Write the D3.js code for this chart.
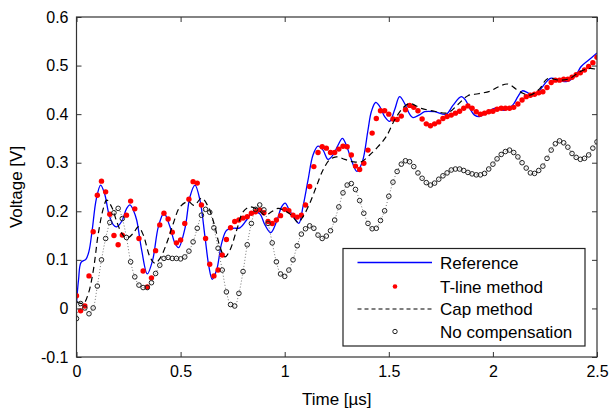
<!DOCTYPE html>
<html>
<head>
<meta charset="utf-8">
<script src="https://cdn.jsdelivr.net/npm/d3@7"></script>
<style>
  html, body { margin: 0; padding: 0; background: #fff; }
  svg { display: block; font-family: "Liberation Sans", Arial, sans-serif; }
</style>
</head>
<body>
<svg id="chart" width="610" height="411"></svg>
<script>
// Axis ticks
const xTicks = [0, 0.5, 1, 1.5, 2, 2.5];
const xTickLabels = ["0", "0.5", "1", "1.5", "2", "2.5"];
const yTicks = [-0.1, 0, 0.1, 0.2, 0.3, 0.4, 0.5, 0.6];
const yTickLabels = ["-0.1", "0", "0.1", "0.2", "0.3", "0.4", "0.5", "0.6"];

// Reference waveform (µs, V)
const refTime = [0, 0.010, 0.022, 0.045, 0.060, 0.075, 0.095, 0.116, 0.135, 0.157, 0.177, 0.193, 0.218, 0.240, 0.257, 0.275, 0.289, 0.313, 0.340, 0.366, 0.393, 0.420, 0.449, 0.473, 0.490, 0.521, 0.545, 0.569, 0.593, 0.617, 0.636, 0.652, 0.673, 0.697, 0.721, 0.752, 0.785, 0.817, 0.848, 0.880, 0.905, 0.933, 0.961, 0.985, 1.002, 1.024, 1.048, 1.068, 1.088, 1.112, 1.136, 1.160, 1.184, 1.208, 1.232, 1.256, 1.277, 1.296, 1.320, 1.347, 1.373, 1.400, 1.416, 1.437, 1.456, 1.480, 1.504, 1.528, 1.552, 1.576, 1.600, 1.616, 1.645, 1.672, 1.720, 1.776, 1.808, 1.848, 1.870, 1.888, 1.912, 1.936, 1.976, 2.016, 2.056, 2.096, 2.120, 2.141, 2.168, 2.200, 2.232, 2.264, 2.280, 2.320, 2.352, 2.392, 2.424, 2.456, 2.500];
const refVolt = [0.010, 0.060, 0.095, 0.101, 0.118, 0.160, 0.225, 0.254, 0.236, 0.192, 0.172, 0.168, 0.180, 0.205, 0.213, 0.200, 0.182, 0.120, 0.071, 0.100, 0.168, 0.196, 0.168, 0.134, 0.125, 0.165, 0.230, 0.254, 0.223, 0.148, 0.086, 0.060, 0.079, 0.134, 0.161, 0.165, 0.166, 0.182, 0.199, 0.195, 0.172, 0.156, 0.179, 0.209, 0.217, 0.201, 0.186, 0.175, 0.210, 0.264, 0.316, 0.334, 0.326, 0.307, 0.316, 0.336, 0.350, 0.336, 0.306, 0.282, 0.302, 0.367, 0.405, 0.424, 0.416, 0.395, 0.385, 0.409, 0.436, 0.422, 0.400, 0.393, 0.398, 0.405, 0.405, 0.400, 0.418, 0.436, 0.428, 0.413, 0.398, 0.395, 0.405, 0.413, 0.408, 0.419, 0.436, 0.448, 0.444, 0.439, 0.453, 0.470, 0.474, 0.470, 0.467, 0.477, 0.498, 0.510, 0.526];

// Cap method waveform (µs, V)
const capTime = [0, 0.033, 0.057, 0.081, 0.105, 0.129, 0.145, 0.169, 0.193, 0.217, 0.241, 0.273, 0.297, 0.321, 0.353, 0.377, 0.401, 0.433, 0.465, 0.497, 0.537, 0.565, 0.601, 0.633, 0.665, 0.689, 0.713, 0.737, 0.769, 0.800, 0.833, 0.872, 0.905, 0.937, 0.968, 1.009, 1.033, 1.064, 1.088, 1.120, 1.152, 1.184, 1.216, 1.248, 1.288, 1.328, 1.368, 1.408, 1.448, 1.488, 1.528, 1.568, 1.600, 1.656, 1.720, 1.784, 1.832, 1.880, 1.930, 1.984, 2.030, 2.072, 2.110, 2.144, 2.176, 2.224, 2.262, 2.320, 2.368, 2.416, 2.464, 2.500];
const capVolt = [0.014, 0.010, 0.031, 0.079, 0.155, 0.206, 0.223, 0.209, 0.179, 0.155, 0.144, 0.155, 0.168, 0.151, 0.106, 0.093, 0.103, 0.134, 0.175, 0.209, 0.220, 0.212, 0.227, 0.209, 0.168, 0.127, 0.106, 0.120, 0.161, 0.199, 0.209, 0.203, 0.192, 0.199, 0.206, 0.199, 0.192, 0.177, 0.189, 0.216, 0.251, 0.285, 0.306, 0.312, 0.307, 0.302, 0.302, 0.316, 0.333, 0.354, 0.388, 0.413, 0.422, 0.412, 0.406, 0.403, 0.420, 0.438, 0.442, 0.447, 0.457, 0.462, 0.452, 0.443, 0.439, 0.452, 0.473, 0.470, 0.473, 0.487, 0.494, 0.492];

// Sampled methods: one sample every 0.02 µs from 0 to 2.5 µs
const sampleStep = 0.02;
const tlineVolt = [0.026, -0.005, 0.005, 0.067, 0.158, 0.233, 0.262, 0.240, 0.194, 0.150, 0.131, 0.151, 0.192, 0.221, 0.205, 0.144, 0.077, 0.044, 0.063, 0.119, 0.172, 0.196, 0.184, 0.157, 0.135, 0.141, 0.175, 0.225, 0.261, 0.258, 0.213, 0.144, 0.091, 0.067, 0.079, 0.110, 0.142, 0.166, 0.179, 0.182, 0.186, 0.189, 0.196, 0.199, 0.203, 0.197, 0.179, 0.175, 0.182, 0.191, 0.204, 0.201, 0.192, 0.188, 0.192, 0.213, 0.251, 0.292, 0.321, 0.333, 0.330, 0.321, 0.321, 0.328, 0.334, 0.333, 0.316, 0.293, 0.286, 0.299, 0.326, 0.361, 0.391, 0.407, 0.407, 0.400, 0.390, 0.389, 0.396, 0.409, 0.418, 0.414, 0.407, 0.390, 0.380, 0.376, 0.380, 0.384, 0.391, 0.395, 0.398, 0.402, 0.406, 0.412, 0.417, 0.412, 0.405, 0.400, 0.402, 0.405, 0.406, 0.410, 0.412, 0.412, 0.412, 0.414, 0.421, 0.429, 0.436, 0.439, 0.441, 0.444, 0.446, 0.455, 0.465, 0.470, 0.470, 0.472, 0.472, 0.476, 0.481, 0.485, 0.491, 0.498, 0.506, 0.517];
const noCompVolt = [-0.021, 0.010, 0.001, -0.011, 0.001, 0.046, 0.100, 0.144, 0.177, 0.197, 0.206, 0.185, 0.146, 0.096, 0.065, 0.048, 0.043, 0.043, 0.053, 0.072, 0.089, 0.103, 0.105, 0.103, 0.103, 0.102, 0.106, 0.118, 0.137, 0.165, 0.192, 0.204, 0.198, 0.166, 0.124, 0.079, 0.034, 0.008, 0.005, 0.031, 0.076, 0.131, 0.175, 0.204, 0.213, 0.203, 0.175, 0.135, 0.096, 0.071, 0.066, 0.079, 0.100, 0.129, 0.153, 0.164, 0.170, 0.165, 0.151, 0.144, 0.149, 0.160, 0.182, 0.209, 0.238, 0.254, 0.257, 0.245, 0.222, 0.196, 0.175, 0.164, 0.165, 0.181, 0.201, 0.231, 0.260, 0.282, 0.297, 0.304, 0.302, 0.292, 0.279, 0.268, 0.259, 0.254, 0.258, 0.266, 0.273, 0.279, 0.285, 0.287, 0.287, 0.284, 0.280, 0.277, 0.275, 0.275, 0.278, 0.287, 0.297, 0.308, 0.317, 0.323, 0.326, 0.321, 0.312, 0.300, 0.289, 0.279, 0.278, 0.284, 0.293, 0.309, 0.326, 0.339, 0.345, 0.341, 0.332, 0.319, 0.311, 0.307, 0.309, 0.316, 0.330, 0.343];

const legendNames = ["Reference", "T-line method", "Cap method", "No compensation"];

const svg = d3.select("#chart");
const plotLeft = 76.5, plotRight = 597, plotTop = 17, plotBottom = 357;

const x = d3.scaleLinear().domain([0, 2.5]).range([plotLeft, plotRight]);
const y = d3.scaleLinear().domain([-0.1, 0.6]).range([plotBottom, plotTop]);

const refData = refTime.map((t, i) => [t, refVolt[i]]);
const capData = capTime.map((t, i) => [t, capVolt[i]]);
const tlineData = tlineVolt.map((v, i) => [i * sampleStep, v]);
const noCompData = noCompVolt.map((v, i) => [i * sampleStep, v]);

const smooth = d3.line().x(d => x(d[0])).y(d => y(d[1])).curve(d3.curveCatmullRom.alpha(0.5));

svg.append("defs").append("clipPath").attr("id", "plotClip")
  .append("rect").attr("x", plotLeft).attr("y", plotTop)
  .attr("width", plotRight - plotLeft).attr("height", plotBottom - plotTop);

const plot = svg.append("g").attr("clip-path", "url(#plotClip)");

// Reference
plot.append("path").datum(refData).attr("d", smooth)
  .attr("fill", "none").attr("stroke", "#0000ff").attr("stroke-width", 1.3);

// No compensation: dotted connector
plot.append("path").datum(noCompData).attr("d", smooth)
  .attr("fill", "none").attr("stroke", "#777").attr("stroke-width", 1)
  .attr("stroke-dasharray", "1,2");

// T-line method markers
plot.append("g").selectAll("circle").data(tlineData).join("circle")
  .attr("cx", d => x(d[0])).attr("cy", d => y(d[1])).attr("r", 2.7)
  .attr("fill", "#ff0000");

// Cap method
plot.append("path").datum(capData).attr("d", smooth)
  .attr("fill", "none").attr("stroke", "#000").attr("stroke-width", 1.2)
  .attr("stroke-dasharray", "6,4");

// No compensation markers
plot.append("g").selectAll("circle").data(noCompData).join("circle")
  .attr("cx", d => x(d[0])).attr("cy", d => y(d[1])).attr("r", 2.3)
  .attr("fill", "none").attr("stroke", "#222").attr("stroke-width", 1);

// Axes (ticks pointing inward, box on all sides)
const axisColor = "#333";
function styleAxis(g) {
  g.select(".domain").remove();
  g.selectAll(".tick line").attr("stroke", axisColor).attr("stroke-width", 1);
  g.selectAll(".tick text").attr("fill", "#000").style("font-size", "16px")
    .style("font-family", "'Liberation Sans', Arial, sans-serif");
}

svg.append("g").attr("transform", `translate(0,${plotBottom})`)
  .call(d3.axisBottom(x).tickValues(xTicks).tickSize(-5).tickPadding(9)
    .tickFormat((d, i) => xTickLabels[i]))
  .call(styleAxis);
svg.append("g").attr("transform", `translate(0,${plotTop})`)
  .call(d3.axisTop(x).tickValues(xTicks).tickSize(-5).tickFormat(""))
  .call(styleAxis);
svg.append("g").attr("transform", `translate(${plotLeft},0)`)
  .call(d3.axisLeft(y).tickValues(yTicks).tickSize(-5).tickPadding(8)
    .tickFormat((d, i) => yTickLabels[i]))
  .call(styleAxis);
svg.append("g").attr("transform", `translate(${plotRight},0)`)
  .call(d3.axisRight(y).tickValues(yTicks).tickSize(-5).tickFormat(""))
  .call(styleAxis);

svg.append("rect").attr("x", plotLeft).attr("y", plotTop)
  .attr("width", plotRight - plotLeft).attr("height", plotBottom - plotTop)
  .attr("fill", "none").attr("stroke", axisColor).attr("stroke-width", 1.2);

// Axis titles
svg.append("text").attr("x", (plotLeft + plotRight) / 2).attr("y", 405)
  .attr("text-anchor", "middle").style("font-size", "17px").text("Time [µs]");
svg.append("text").attr("transform", `translate(22,${(plotTop + plotBottom) / 2}) rotate(-90)`)
  .attr("text-anchor", "middle").style("font-size", "17px").text("Voltage [V]");

// Legend
const lg = svg.append("g");
lg.append("rect").attr("x", 343).attr("y", 248.5).attr("width", 242).attr("height", 97.5)
  .attr("fill", "#fff").attr("stroke", "#222").attr("stroke-width", 1.2);
const rowY = [262.5, 286.5, 309, 331.5];
const sx0 = 357.5, sx1 = 432, sxm = 395, tx = 440;
lg.append("line").attr("x1", sx0).attr("x2", sx1).attr("y1", rowY[0]).attr("y2", rowY[0])
  .attr("stroke", "#0000ff").attr("stroke-width", 1.3);
lg.append("circle").attr("cx", sxm).attr("cy", rowY[1]).attr("r", 2.3).attr("fill", "#ff0000");
lg.append("line").attr("x1", sx0).attr("x2", sx1).attr("y1", rowY[2]).attr("y2", rowY[2])
  .attr("stroke", "#000").attr("stroke-width", 1.2).attr("stroke-dasharray", "4,3");
lg.append("circle").attr("cx", sxm).attr("cy", rowY[3]).attr("r", 2.2)
  .attr("fill", "none").attr("stroke", "#222").attr("stroke-width", 1);
lg.selectAll("text.lab").data(legendNames).join("text").attr("class", "lab")
  .attr("x", tx).attr("y", (d, i) => rowY[i] + 6)
  .style("font-size", "17px").text(d => d);
</script>
</body>
</html>
